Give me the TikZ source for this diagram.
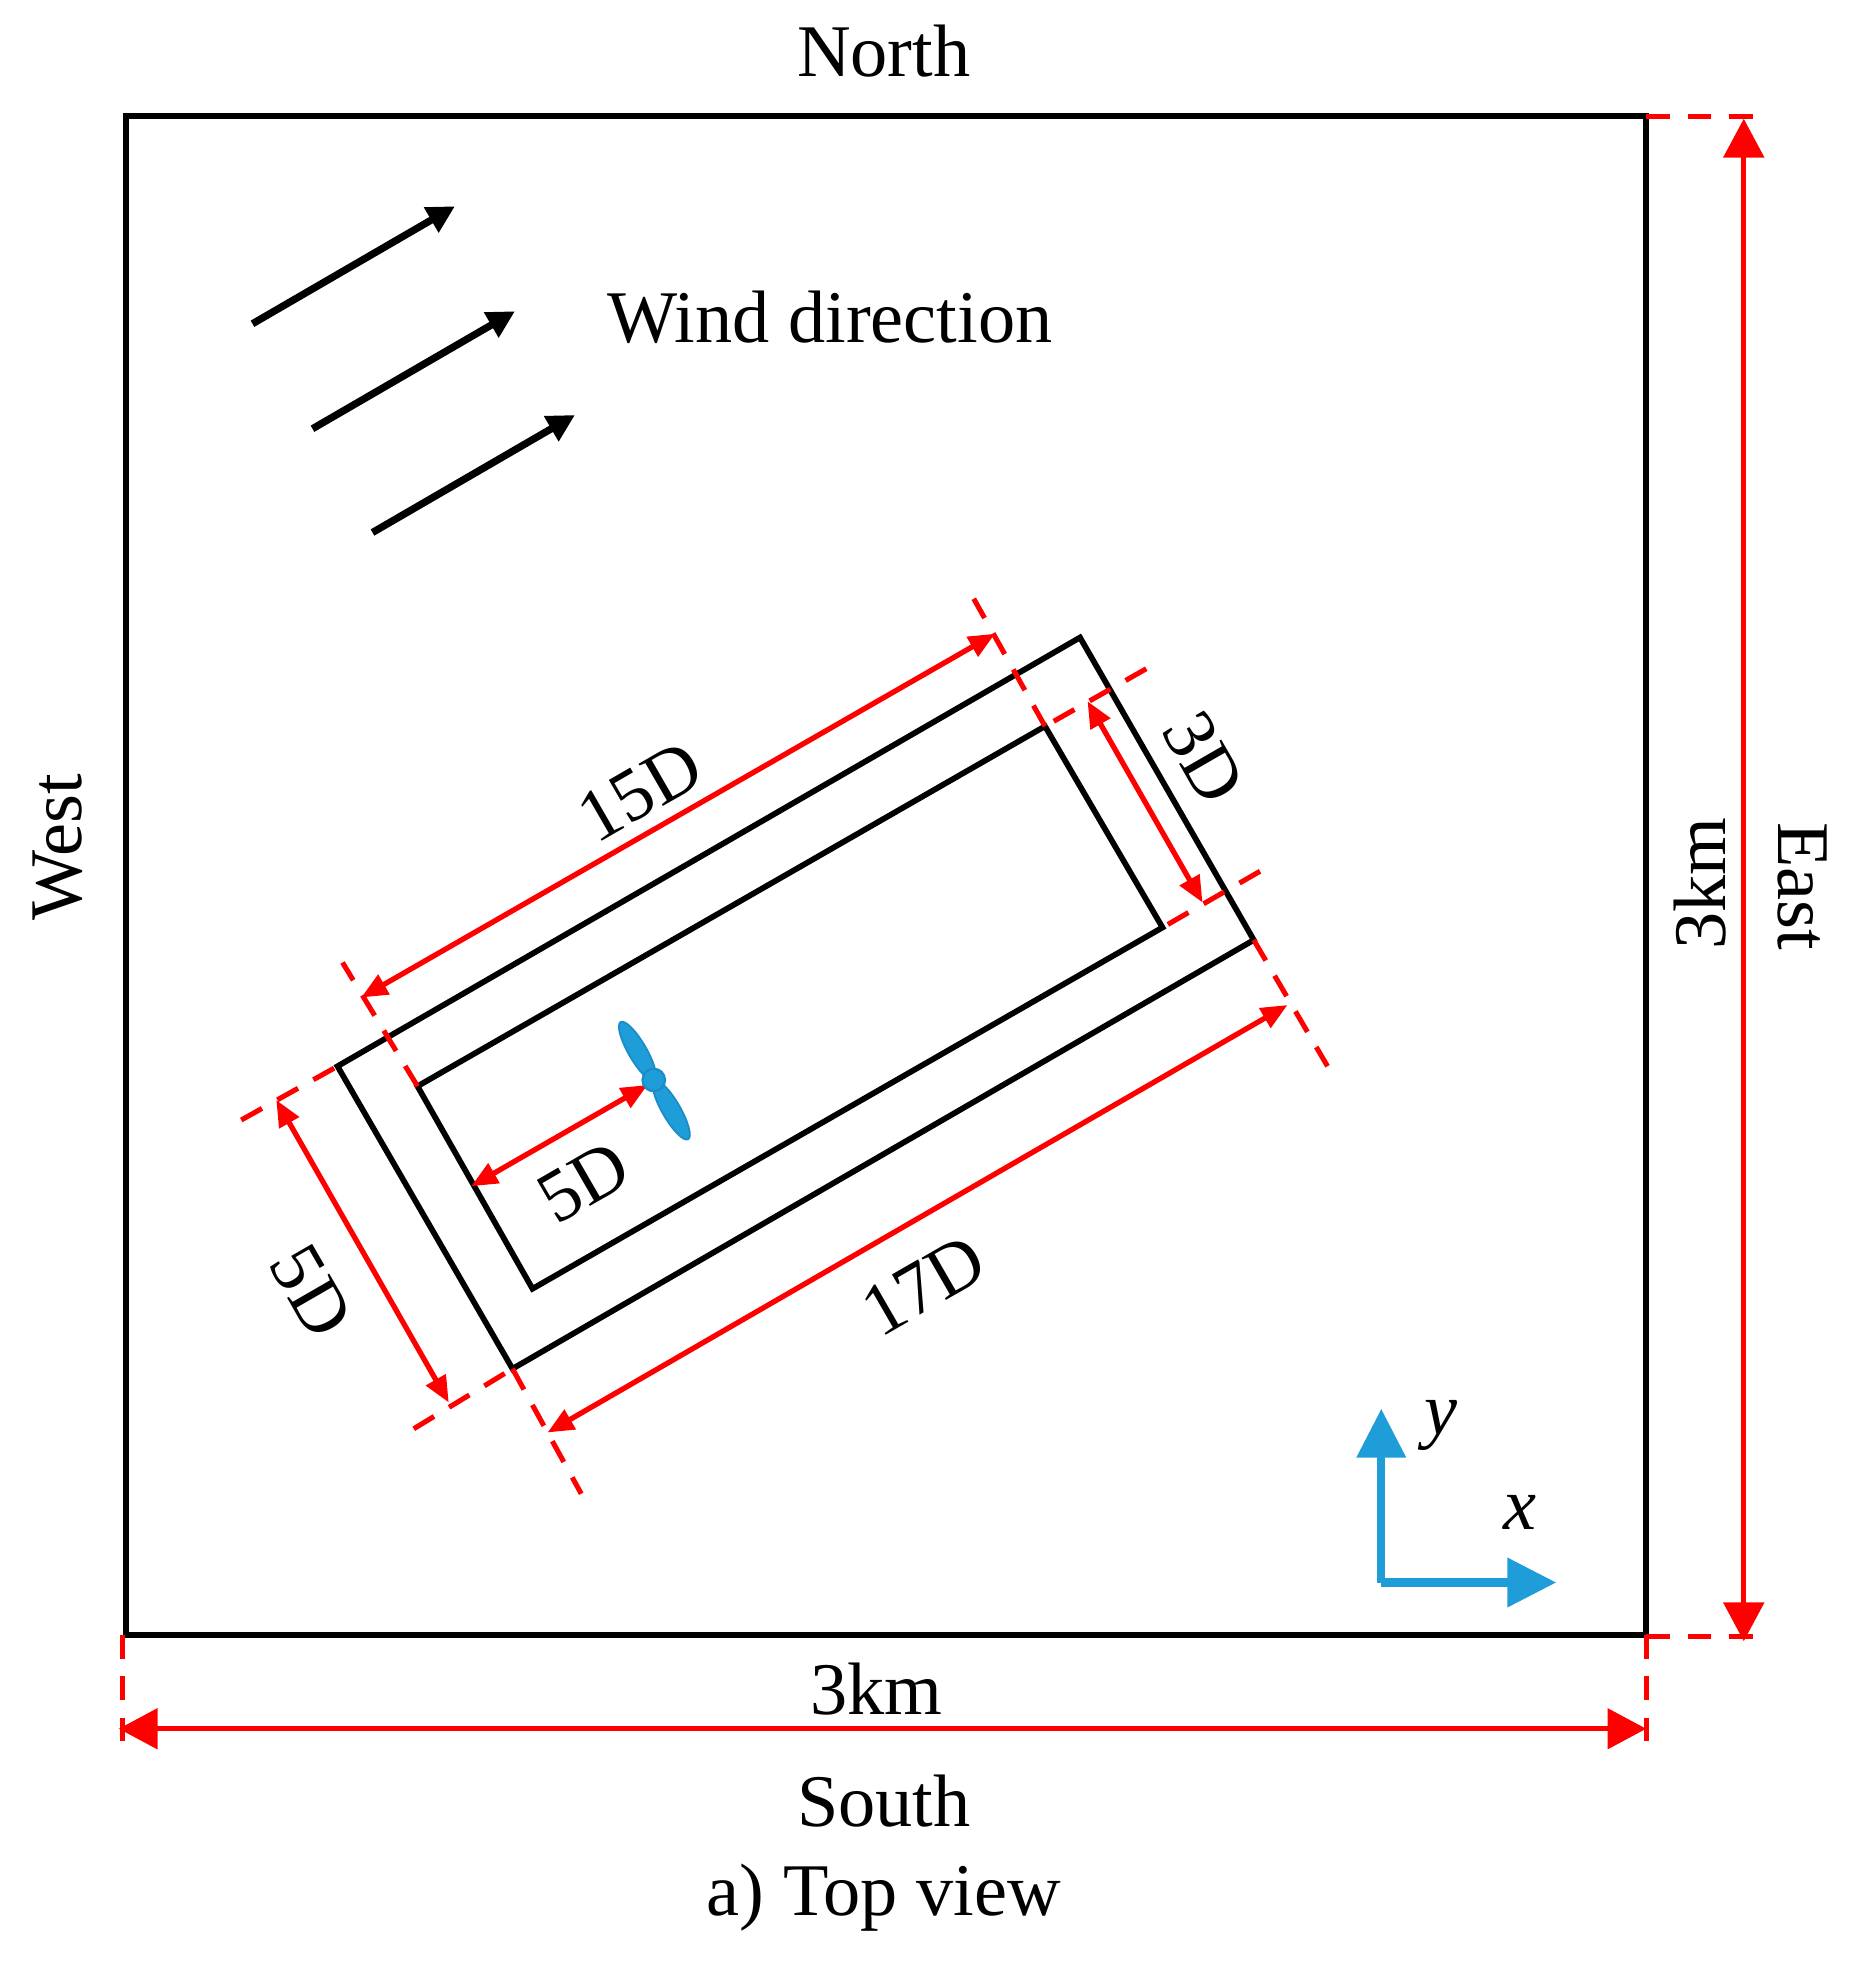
\documentclass[tikz,border=0pt]{standalone}
\usepackage{fontspec}
\setmainfont{Liberation Serif}
\usepackage{tikz}
\usetikzlibrary{shapes.geometric, positioning}
\usetikzlibrary{arrows.meta}
\definecolor{axisblue}{HTML}{1F9DD9}
\definecolor{hubblue}{HTML}{1C8CC8}
\tikzset{>={Triangle[width=1.75mm,length=2.1mm]}}

\begin{document}
\begin{tikzpicture}[x=0.01cm, y=-0.01cm,
    label/.style={font=\fontsize{16.9}{20}\selectfont, inner sep=0pt},
    frame/.style={draw=black, line width=1.3pt, line join=miter},
    wind/.style={->, draw=black, line width=1.65pt, >={Triangle[width=2.2mm,length=2.2mm]}},
    dim/.style={<->, draw=red, line width=1.15pt, >={Triangle[width=3.2mm,length=3.1mm]}},
    smalldim/.style={<->, draw=red, line width=1.2pt},
    ext/.style={draw=red, line width=1.15pt, dash pattern=on 5.4pt off 4pt},
    axis/.style={->, draw=axisblue, line width=1.9pt, >={Triangle[width=3.8mm,length=3.9mm]}},
    blade/.style={ellipse, fill=axisblue, draw=hubblue, line width=0.4pt, minimum width=5.4mm, minimum height=1.45mm, inner sep=0pt},
    hub/.style={circle, fill=axisblue, draw=hubblue, line width=0.5pt, minimum size=1.8mm, inner sep=0pt} ]

    \useasboundingbox (0,0) rectangle (1485.6,1568.8);

    %Corners
    \coordinate (box_nw) at (101,93);
    \coordinate (box_ne) at (1317,93);
    \coordinate (box_se) at (1317,1308);
    \coordinate (box_sw) at (101,1308);
    \coordinate (outer_n) at (864,510);
    \coordinate (outer_e) at (1003,752);
    \coordinate (outer_s) at (410,1095);
    \coordinate (outer_w) at (270,853);
    \coordinate (inner_n) at (836,581);
    \coordinate (inner_e) at (930,742);
    \coordinate (inner_s) at (426,1031);
    \coordinate (inner_w) at (334,869);

    %Ends of the red lines
    \coordinate (ext_sw_end) at (98,1393);
    \coordinate (ext_sw_top) at (98,1308);
    \coordinate (ext_se_end) at (1317,1393);
    \coordinate (ext_ne_end) at (1405,93);
    \coordinate (ext_br_end) at (1405,1309);
    \coordinate (ext_br_top) at (1317,1309);
    \coordinate (width_w) at (95,1383);
    \coordinate (width_e) at (1317,1383);
    \coordinate (height_n) at (1395,95);
    \coordinate (height_s) at (1395,1313);
    \coordinate (ext15_a) at (274,770);
    \coordinate (ext15_b) at (779,479);
    \coordinate (ext17_a) at (465,1195);
    \coordinate (ext17_b) at (1062,853);
    \coordinate (ext3_a) at (917,535);
    \coordinate (ext3_b) at (1008,697);
    \coordinate (ext5_a) at (193,896);
    \coordinate (ext5_b) at (331,1143);
    \coordinate (dim15_a) at (289,798);
    \coordinate (dim15_b) at (796,507);
    \coordinate (dim17_a) at (438,1146);
    \coordinate (dim17_b) at (1030,804);
    \coordinate (dim3_a) at (870,561);
    \coordinate (dim3_b) at (962,722);
    \coordinate (dim5_a) at (221,880);
    \coordinate (dim5_b) at (359,1122);
    \coordinate (hub_a) at (377,949);
    \coordinate (hub_b) at (518,868);

    %Ends of the wind and axis arrows
    \coordinate (wind1_a) at (202,259);
    \coordinate (wind1_b) at (364,165);
    \coordinate (wind2_a) at (250,343);
    \coordinate (wind2_b) at (412,249);
    \coordinate (wind3_a) at (298,426);
    \coordinate (wind3_b) at (460,332);
    \coordinate (origin) at (1105,1266);
    \coordinate (axis_y) at (1105,1127);
    \coordinate (axis_x) at (1245,1266);

    %Nodes
    \node[label] (north) at (707,41) {North};
    \node[label] (south) at (707,1441) {South};
    \node[label] (caption) at (707,1518) {a) Top view};
    \node[label, rotate=90] (west) at (46,678) {West};
    \node[label, rotate=-90] (east) at (1442,709) {East};
    \node[label, rotate=90] (km_height) at (1360,707) {3km};
    \node[label] (km_width) at (701,1351) {3km};
    \node[label] (wind_text) at (664,254) {Wind direction};
    \node[label, rotate=30] (d15) at (512,633) {15D};
    \node[label, rotate=30] (d17) at (739,1028) {17D};
    \node[label, rotate=30] (d5_inner) at (467,946) {5D};
    \node[label, rotate=-60] (d5_outer) at (249,1033) {5D};
    \node[label, rotate=-60] (d3) at (963,606) {3D};
    \node[label] (x_label) at (1216,1210) {\textit{x}};
    \node[label] (y_label) at (1153,1140) {\textit{y}};

    %Lines
    \draw[frame] (box_nw) -- (box_ne) -- (box_se) -- (box_sw) -- cycle;
    \draw[frame] (outer_n) -- (outer_e) -- (outer_s) -- (outer_w) -- cycle;
    \draw[frame] (inner_n) -- (inner_e) -- (inner_s) -- (inner_w) -- cycle;

    \draw[ext] (ext_sw_top) -- (ext_sw_end);
    \draw[ext] (box_se) -- (ext_se_end);
    \draw[ext] (box_ne) -- (ext_ne_end);
    \draw[ext] (ext_br_top) -- (ext_br_end);
    \draw[ext] (inner_w) -- (ext15_a);
    \draw[ext] (inner_n) -- (ext15_b);
    \draw[ext] (outer_s) -- (ext17_a);
    \draw[ext] (outer_e) -- (ext17_b);
    \draw[ext] (ext3_a) -- (inner_n);
    \draw[ext] (ext3_b) -- (inner_e);
    \draw[ext] (ext5_a) -- (outer_w);
    \draw[ext] (ext5_b) -- (outer_s);

    \draw[dim] (width_w) -- (width_e);
    \draw[dim] (height_n) -- (height_s);
    \draw[smalldim] (dim15_a) -- (dim15_b);
    \draw[smalldim] (dim17_a) -- (dim17_b);
    \draw[smalldim] (dim3_a) -- (dim3_b);
    \draw[smalldim] (dim5_a) -- (dim5_b);
    \draw[smalldim] (hub_a) -- (hub_b);

    \draw[wind] (wind1_a) -- (wind1_b);
    \draw[wind] (wind2_a) -- (wind2_b);
    \draw[wind] (wind3_a) -- (wind3_b);

    \draw[axis] (origin) -- (axis_y);
    \draw[axis] (origin) -- (axis_x);

    %Turbine
    \node[blade, rotate=-60] (blade_up) at (510,841) {};
    \node[blade, rotate=-60] (blade_down) at (537,888) {};
    \node[hub] (rotor) at (523,864) {};
\end{tikzpicture}
\end{document}
